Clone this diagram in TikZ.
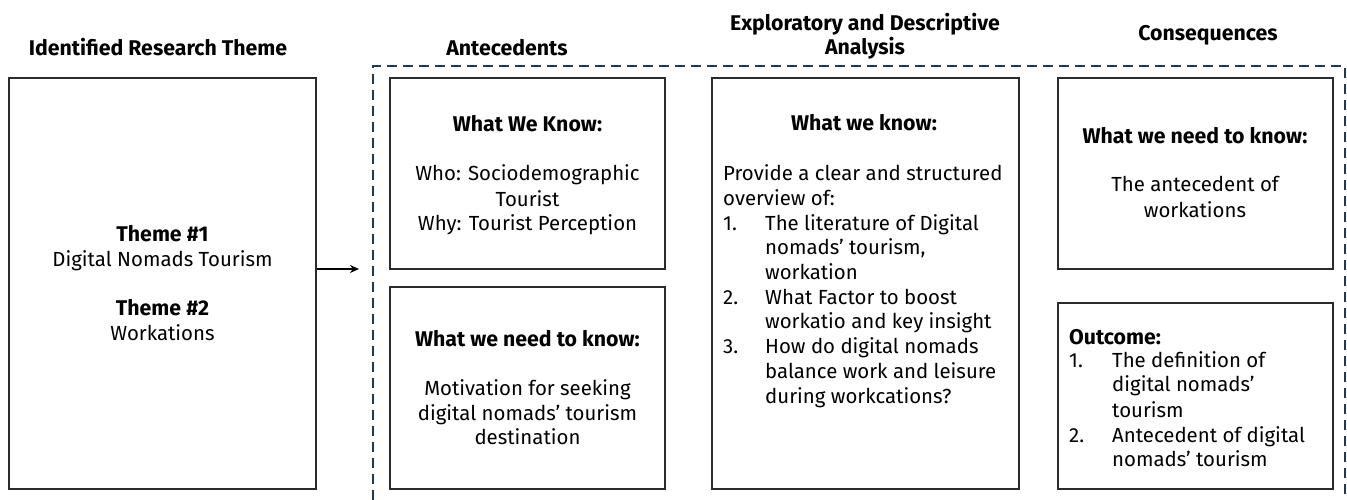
\documentclass[tikz,border=0pt]{standalone}
\usepackage{fontspec}
\setmainfont{Fira Sans}
\usetikzlibrary{arrows.meta}
\definecolor{boxc}{HTML}{2B2B2B}
\definecolor{dashc}{HTML}{1F3B4F}
\newcommand{\fs}{\fontsize{20.4}{24}\selectfont}
\newcommand{\fb}{\fontsize{21.3}{24}\selectfont\bfseries}
\newcommand{\putline}[4]{\node[#1] (#2) at (#3) {#4};}
\begin{document}
\begin{tikzpicture}[x=1pt,y=-1pt,
  box/.style={draw=boxc, line width=1.3pt, inner sep=0pt},
  tx/.style={inner sep=0pt, anchor=base, font=\fs, text=black},
  txl/.style={tx, anchor=base west},
  hd/.style={tx, font=\fb},
  hdl/.style={hd, anchor=base west},
  frame/.style={draw=dashc, line width=2pt, dash pattern=on 10pt off 6pt},
  arr/.style={draw=black, line width=1.5pt, -{Stealth[length=9pt,width=8pt]}}]
\useasboundingbox (0,0) rectangle (1347,500);
% headings
\putline{hd}{h1}{158,56}{Identified Research Theme}
\putline{hd}{h2}{507,56}{Antecedents}
\putline{hd}{h3a}{865,31}{Exploratory and Descriptive}
\putline{hd}{h3b}{865,55}{Analysis}
\putline{hd}{h4}{1208,41}{Consequences}
% dashed frame
\coordinate (f1) at (373,500);
\coordinate (f2) at (373,66);
\coordinate (f3) at (1345,66);
\coordinate (f4) at (1345,500);
\draw[frame] (f1) -- (f2) -- (f3) -- (f4);
% boxes
\node[box, minimum width=307pt, minimum height=411pt] (theme) at (162.5,283.5) {};
\node[box, minimum width=275pt, minimum height=191pt] (ante1) at (527.5,173.5) {};
\node[box, minimum width=275pt, minimum height=202pt] (ante2) at (527.5,388) {};
\node[box, minimum width=307pt, minimum height=411pt] (mid) at (865.5,283.5) {};
\node[box, minimum width=275pt, minimum height=191pt] (cons1) at (1195.5,173.5) {};
\node[box, minimum width=275pt, minimum height=186pt] (cons2) at (1195.5,396) {};
% arrow
\coordinate (tip) at (359,269);
\draw[arr] (theme.east |- tip) -- (tip);
% theme box
\putline{hd}{t1}{162.5,241}{Theme \#1}
\putline{tx}{t2}{162.5,266}{Digital Nomads Tourism}
\putline{hd}{t3}{162.5,315}{Theme \#2}
\putline{tx}{t4}{162.5,340}{Workations}
% antecedents 1
\putline{hd}{a1}{527.5,132}{What We Know:}
\putline{tx}{a2}{527.5,181}{Who: Sociodemographic}
\putline{tx}{a3}{527.5,206}{Tourist}
\putline{tx}{a4}{527.5,230}{Why: Tourist Perception}
% antecedents 2
\putline{hd}{b1}{527.5,346}{What we need to know:}
\putline{tx}{b2}{527.5,395}{Motivation for seeking}
\putline{tx}{b3}{527.5,420}{digital nomads’ tourism}
\putline{tx}{b4}{527.5,444}{destination}
% middle
\putline{hd}{m0}{864,131}{What we know:}
\putline{txl}{m1}{723,180}{Provide a clear and structured}
\putline{txl}{m2}{723,205}{overview of:}
\putline{txl}{n1}{723,230}{1.}
\putline{txl}{m3}{765,230}{The literature of Digital}
\putline{txl}{m4}{765,254}{nomads’ tourism,}
\putline{txl}{m5}{765,279}{workation}
\putline{txl}{n2}{723,304}{2.}
\putline{txl}{m6}{765,304}{What Factor to boost}
\putline{txl}{m7}{765,328}{workatio and key insight}
\putline{txl}{n3}{723,353}{3.}
\putline{txl}{m8}{765,353}{How do digital nomads}
\putline{txl}{m9}{765,378}{balance work and leisure}
\putline{txl}{m10}{765,403}{during workcations?}
% consequences 1
\putline{hd}{c1}{1195,144}{What we need to know:}
\putline{tx}{c2}{1195,192}{The antecedent of}
\putline{tx}{c3}{1195,217}{workations}
% consequences 2
\putline{hdl}{d0}{1069,344}{Outcome:}
\putline{txl}{dn1}{1069,367}{1.}
\putline{txl}{d1}{1112,367}{The definition of}
\putline{txl}{d2}{1112,391}{digital nomads’}
\putline{txl}{d3}{1112,417}{tourism}
\putline{txl}{dn2}{1069,442}{2.}
\putline{txl}{d4}{1112,442}{Antecedent of digital}
\putline{txl}{d5}{1112,466}{nomads’ tourism}
\end{tikzpicture}
\end{document}
